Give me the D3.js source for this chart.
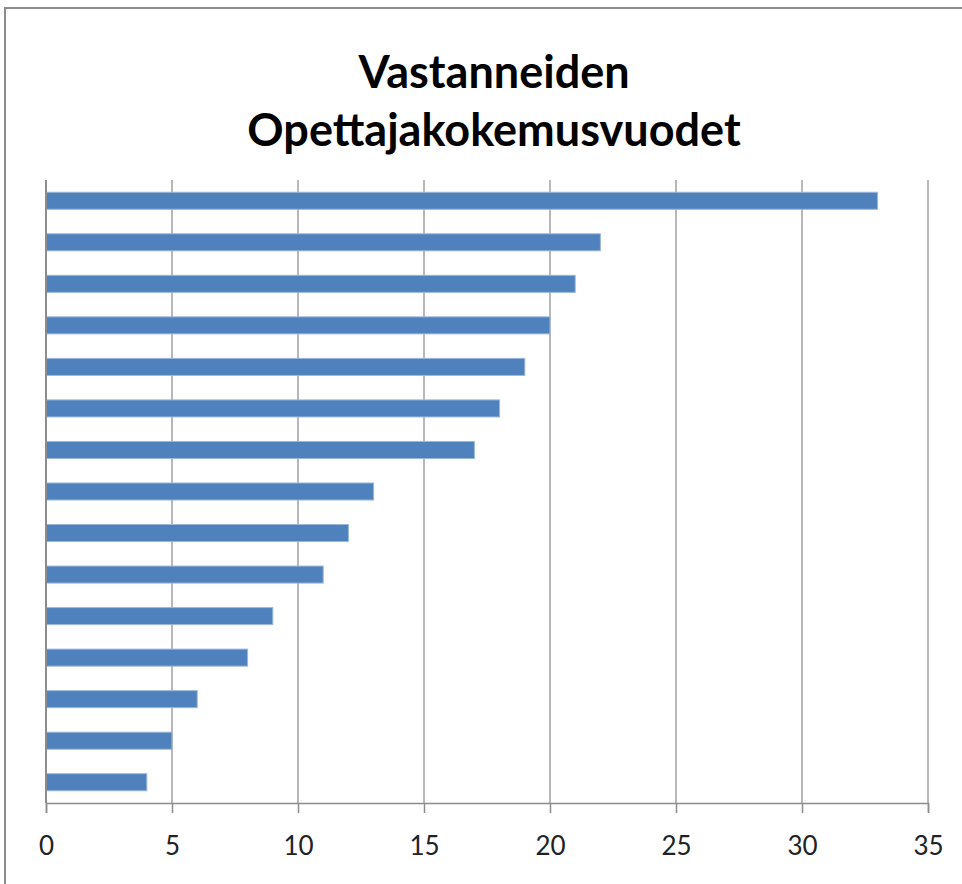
<!DOCTYPE html>
<html>
<head>
<meta charset="utf-8">
<script src="https://cdn.jsdelivr.net/npm/d3@7"></script>
<style>
  body { margin: 0; background: #fff; }
  svg { display: block; }
</style>
</head>
<body>
<svg id="chart" width="962" height="884"></svg>
<script>
// chart data, top bar first
var titleLines = ["Vastanneiden", "Opettajakokemusvuodet"];
var respondents = ["r1", "r2", "r3", "r4", "r5", "r6", "r7", "r8", "r9", "r10", "r11", "r12", "r13", "r14", "r15"];
var years = [33, 22, 21, 20, 19, 18, 17, 13, 12, 11, 9, 8, 6, 5, 4];
var xTicks = [0, 5, 10, 15, 20, 25, 30, 35];

var svg = d3.select("#chart");

// outer chart frame (right and bottom run off the page)
svg.append("rect")
    .attr("x", 5).attr("y", 8)
    .attr("width", 980).attr("height", 900)
    .style("fill", "#fff")
    .style("stroke", "#8c8c8c")
    .style("stroke-width", 2);

// plot area
var plotLeft = 46, plotRight = 928, plotTop = 180, plotBottom = 803;

var x = d3.scaleLinear().domain([0, 35]).range([plotLeft, plotRight]);
var y = d3.scaleBand().domain(respondents).range([plotTop, plotBottom]).paddingInner(0.59).paddingOuter(0.295);

// title
var title = svg.append("text")
    .attr("text-anchor", "middle")
    .style("font-family", "Lato, 'Open Sans', sans-serif")
    .style("font-weight", "bold")
    .style("font-size", "45px")
    .style("fill", "#000");
title.selectAll("tspan").data(titleLines).enter().append("tspan")
    .attr("x", 494)
    .attr("y", function(d, i){ return 88 + i * 58; })
    .text(function(d){ return d; });

// vertical gridlines
svg.append("g").attr("class", "grid")
    .selectAll("line").data(xTicks.slice(1)).enter().append("line")
    .attr("x1", function(d){ return x(d); })
    .attr("x2", function(d){ return x(d); })
    .attr("y1", plotTop).attr("y2", plotBottom)
    .style("stroke", "#a0a0a0")
    .style("stroke-width", 1.5);

// bars
svg.append("g").attr("class", "bars")
    .selectAll("rect").data(years).enter().append("rect")
    .attr("x", x(0))
    .attr("y", function(d, i){ return y(respondents[i]); })
    .attr("width", function(d){ return x(d) - x(0); })
    .attr("height", y.bandwidth())
    .style("fill", "#4f81bd")
    .style("stroke", "#9bb7da")
    .style("stroke-width", 1);

// category axis line (no labels)
svg.append("line")
    .attr("x1", plotLeft).attr("x2", plotLeft)
    .attr("y1", plotTop).attr("y2", plotBottom)
    .style("stroke", "#8c8c8c")
    .style("stroke-width", 2);

// value axis
var xAxis = svg.append("g")
    .attr("transform", "translate(0," + plotBottom + ")")
    .call(d3.axisBottom(x).tickValues(xTicks).tickSize(10).tickPadding(24).tickFormat(d3.format("d")));
xAxis.select(".domain").style("stroke", "#8c8c8c").style("stroke-width", 1.5);
xAxis.selectAll(".tick line").style("stroke", "#8c8c8c").style("stroke-width", 1.5);
xAxis.selectAll(".tick text")
    .style("font-family", "Lato, 'Open Sans', sans-serif")
    .style("font-size", "26px")
    .style("fill", "#222");
</script>
</body>
</html>
